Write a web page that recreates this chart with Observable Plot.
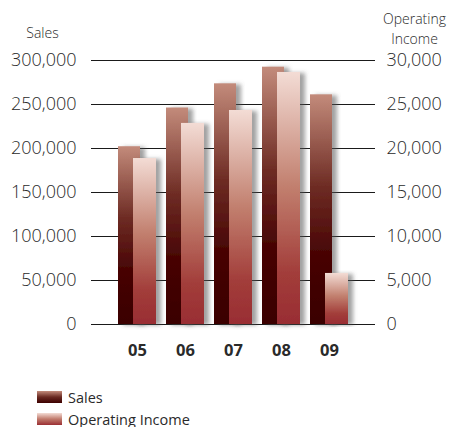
<!DOCTYPE html>
<html>
<head>
<meta charset="utf-8">
<script src="https://cdn.jsdelivr.net/npm/d3@7"></script>
<script src="https://cdn.jsdelivr.net/npm/@observablehq/plot@0.6"></script>
<style>
  html, body { margin: 0; padding: 0; background: #fff; }
  body { width: 450px; height: 427px; overflow: hidden; font-family: "Open Sans", "Noto Sans", sans-serif; }
  #legend { margin-top: 21px; margin-left: 37px; font-size: 14.5px; color: #2a2a2a; }
  .row { display: flex; align-items: center; height: 12px; margin-bottom: 10px; }
  .sw { width: 25px; height: 12px; margin-right: 6px; }
</style>
</head>
<body>
<div id="chart"></div>
<div id="legend">
  <div class="row"><div class="sw" style="background:linear-gradient(#c38b7b,#6a2a22 50%,#3d0000)"></div><span>Sales</span></div>
  <div class="row"><div class="sw" style="background:linear-gradient(#f3dcd5,#c07a6c 50%,#9b2f34)"></div><span>Operating Income</span></div>
</div>
<script>
const years = ["05", "06", "07", "08", "09"];
const sales = [202000, 246000, 273500, 292400, 261000];
const income = [18860, 22850, 24320, 28640, 5800];
const salesTicks = [0, 50000, 100000, 150000, 200000, 250000, 300000];

const data = years.map((y, i) => ({year: y, sales: sales[i], income: income[i]}));
const fmt = d3.format(",");

const chart = Plot.plot({
  width: 450,
  height: 370,
  marginTop: 60,
  marginBottom: 46,
  marginLeft: 91,
  marginRight: 75,
  style: {fontFamily: "'Open Sans', 'Noto Sans', sans-serif", color: "#2a2a2a", background: "#fff"},
  x: {domain: years, paddingInner: 0.2, paddingOuter: 0.5, align: 0.5, label: null},
  y: {domain: [0, 300000], label: null},
  marks: [
    Plot.ruleY(salesTicks, {stroke: "#1a1a1a", strokeWidth: 1.2}),
    Plot.barY(data, {x: "year", y: "sales", insetRight: 16, fill: "url(#gSales)"}),
    Plot.barY(data, {x: "year", y: d => d.income * 10, insetLeft: 15, fill: "url(#gIncome)"}),
    Plot.axisY(salesTicks, {anchor: "left", tickSize: 0, tickPadding: 15, tickFormat: fmt, fontSize: 18, fontWeight: 300, fill: "#2a2a2a", label: null}),
    Plot.axisY(salesTicks, {anchor: "right", tickSize: 0, tickPadding: 11, tickFormat: d => fmt(d / 10), fontSize: 18, fontWeight: 300, fill: "#2a2a2a", label: null}),
    Plot.axisX({tickSize: 0, tickPadding: 20, fontSize: 16.5, fontWeight: "bold", fill: "#2a2a2a", label: null}),
    Plot.text(["Sales"], {frameAnchor: "top-left", textAnchor: "middle", lineAnchor: "middle", dx: -49, dy: -27, fontSize: 14, fontWeight: 300, fill: "#2a2a2a"}),
    Plot.text(["Operating\nIncome"], {frameAnchor: "top-right", textAnchor: "middle", lineAnchor: "middle", dx: 39, dy: -33, fontSize: 14, fontWeight: 300, fill: "#2a2a2a", lineHeight: 1.43})
  ]
});

const ns = "http://www.w3.org/2000/svg";
const defs = document.createElementNS(ns, "defs");
defs.innerHTML = `
  <linearGradient id="gSales" x1="0" y1="0" x2="0" y2="1">
    <stop offset="0" stop-color="#c38b7b"/>
    <stop offset="0.4" stop-color="#6e2c24"/>
    <stop offset="0.7" stop-color="#470404"/>
    <stop offset="1" stop-color="#3a0000"/>
  </linearGradient>
  <linearGradient id="gIncome" x1="0" y1="0" x2="0" y2="1">
    <stop offset="0" stop-color="#f3dcd5"/>
    <stop offset="0.45" stop-color="#c2806f"/>
    <stop offset="0.8" stop-color="#a23d3a"/>
    <stop offset="1" stop-color="#992d33"/>
  </linearGradient>
  <filter id="shadow" x="-20%" y="-5%" width="160%" height="110%">
    <feDropShadow dx="5" dy="1" stdDeviation="2" flood-color="#555" flood-opacity="0.55"/>
  </filter>`;
chart.insertBefore(defs, chart.firstChild);
chart.querySelectorAll('g[aria-label="bar"]').forEach(g => {
  g.querySelectorAll("rect").forEach(r => r.setAttribute("filter", "url(#shadow)"));
});
document.getElementById("chart").appendChild(chart);
</script>
</body>
</html>
